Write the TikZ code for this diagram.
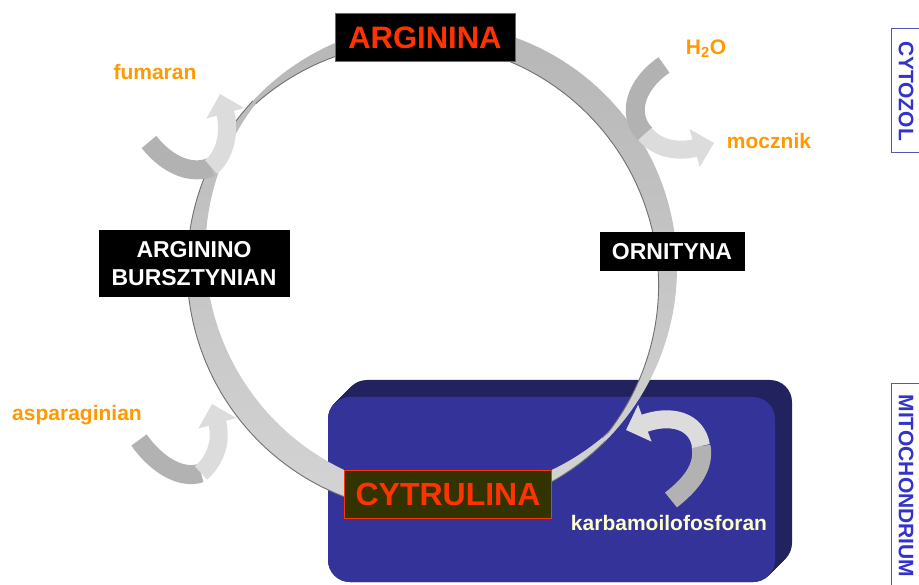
\documentclass[tikz,border=0pt]{standalone}
\usepackage{fontspec}
\setmainfont{Liberation Sans}
\usetikzlibrary{arrows.meta}
\definecolor{orng}{HTML}{FF9900}
\definecolor{redt}{HTML}{FF3300}
\definecolor{cytfill}{HTML}{333300}
\definecolor{mitofront}{HTML}{333399}
\definecolor{mitoside}{HTML}{22225F}
\definecolor{labblue}{HTML}{3333CC}
\definecolor{boxline}{HTML}{5555BB}
\definecolor{cream}{HTML}{FFFFCC}
\definecolor{bandD}{HTML}{B2B2B2}
\definecolor{bandL}{HTML}{DCDCDC}
\definecolor{ringtop}{HTML}{B6B6B6}
\definecolor{ringmid}{HTML}{DEDEDE}
\definecolor{ringbot}{HTML}{D4D4D4}
\definecolor{ringedge}{HTML}{707070}
\begin{document}
\begin{tikzpicture}[x=1pt,y=-1pt,
  keybox/.style={fill=black,draw=redt,line width=1pt,text=redt,inner sep=0pt,
    font=\bfseries\fontsize{31}{34}\selectfont,minimum width=180pt,minimum height=48pt},
  cytbox/.style={fill=cytfill,draw=redt,line width=1pt,text=redt,inner sep=0pt,
    font=\bfseries\fontsize{32}{35}\selectfont,minimum width=207pt,minimum height=48pt},
  metab/.style={fill=black,text=white,inner sep=0pt,align=center,
    font=\bfseries\fontsize{23}{28}\selectfont},
  lab/.style={text=orng,inner sep=0pt,font=\bfseries\fontsize{21}{24}\selectfont},
  sidelab/.style={text=labblue,inner sep=0pt,rotate=-90,font=\bfseries\fontsize{21}{24}\selectfont},
  sideline/.style={draw=boxline,line width=1pt},
  banddark/.style={draw=bandD,line width=19pt},
  bandlight/.style={draw=bandL,line width=18pt,-{Triangle[width=38pt,length=20pt]}},
  edgeline/.style={draw=ringedge,line width=0.9pt}
]
\useasboundingbox[fill=white] (0,0) rectangle (919,585);

% mitochondrion block
\foreach \i in {0,1,...,17}
  \fill[mitoside,rounded corners=22pt] (328+\i,397-\i) rectangle (775+\i,582-\i);
\fill[mitofront,rounded corners=22pt] (328,397) rectangle (775,582);

% ring ribbon
\shade[top color=ringtop,middle color=ringmid,bottom color=ringbot]
  plot[domain=0:360,samples=181] ({432+245*cos(\x)},{268-245*sin(\x)})
  -- plot[domain=360:0,samples=181]
     ({432+(241-22*abs(sin(\x-137)))*cos(\x)},{268-(241-22*abs(sin(\x-137)))*sin(\x)})
  -- cycle;
\draw[edgeline] plot[domain=137:315,samples=90] ({432+245*cos(\x)},{268-245*sin(\x)});
\draw[edgeline] plot[domain=-45:137,samples=90]
  ({432+(241-22*abs(sin(\x-137)))*cos(\x)},{268-(241-22*abs(sin(\x-137)))*sin(\x)});

% reaction arrows
\coordinate (hS) at (664,65);
\coordinate (hM) at (645,134);
\coordinate (hE) at (714,143);
\draw[banddark] (hS) .. controls (636,84) and (626,114) .. (hM);
\draw[bandlight] (hM) .. controls (658,150) and (680,152) .. (hE);

\coordinate (fS) at (149,142);
\coordinate (fM) at (211,167);
\coordinate (fE) at (220,94);
\draw[banddark] (fS) .. controls (168,166) and (192,175) .. (fM);
\draw[bandlight] (fM) .. controls (226,155) and (230,130) .. (fE);

\coordinate (aS) at (139,440);
\coordinate (aM) at (201,473);
\coordinate (aE) at (212,404);
\draw[banddark] (aS) .. controls (155,463) and (180,480) .. (aM);
\draw[bandlight] (aM) .. controls (216,460) and (222,440) .. (aE);

\coordinate (kS) at (671,500);
\coordinate (kM) at (701,446);
\coordinate (kE) at (626,430);
\draw[banddark] (kS) .. controls (690,485) and (705,468) .. (kM);
\draw[bandlight] (kM) .. controls (697,420) and (670,414) .. (kE);

% metabolites
\node[keybox] (arg) at (425,38) {ARGININA};
\node[cytbox] (cyt) at (448,494) {CYTRULINA};
\node[metab,minimum width=145pt,minimum height=39pt] (orn) at (672,252) {ORNITYNA};
\node[metab,minimum width=191pt,minimum height=67pt] (abs) at (194,264) {ARGININO\\BURSZTYNIAN};

% side labels
\node[lab] (fum) at (155,72) {fumaran};
\node[lab] (h2o) at (706,49) {H\textsubscript{2}O};
\node[lab] (moc) at (769,141) {mocznik};
\node[lab] (asp) at (77,415) {asparaginian};
\node[lab,text=cream] (karb) at (669,523) {karbamoilofosforan};

% compartments
\draw[sideline] (919,29) -- (891,29) -- (891,153) -- (919,153);
\node[sidelab] (cyto) at (906,91) {CYTOZOL};
\draw[sideline] (919,384) -- (891,384) -- (891,585);
\node[sidelab] (mito) at (906,486) {MITOCHONDRIUM};
\end{tikzpicture}
\end{document}
